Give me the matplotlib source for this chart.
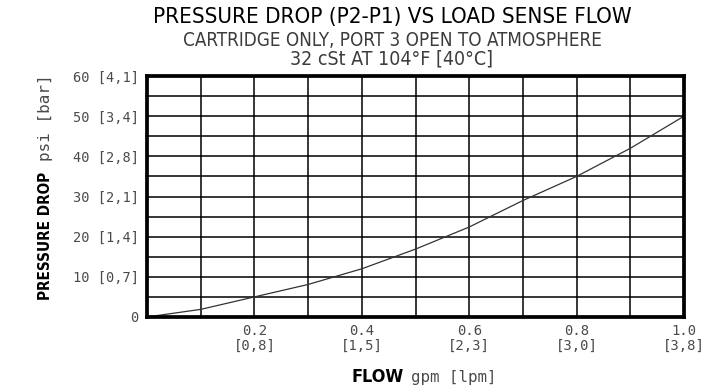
import matplotlib
matplotlib.use("Agg")
import matplotlib.pyplot as plt
from matplotlib.ticker import MultipleLocator, FixedLocator

flow_gpm = [0.0, 0.1, 0.2, 0.3, 0.4, 0.5, 0.6, 0.7, 0.8, 0.9, 1.0]
pressure_psi = [0.0, 1.9, 5.0, 8.1, 12.0, 16.9, 22.4, 29.0, 35.0, 42.0, 50.0]

x_ticks = [0.2, 0.4, 0.6, 0.8, 1.0]
x_tick_labels = ["0.2\n[0,8]", "0.4\n[1,5]", "0.6\n[2,3]", "0.8\n[3,0]", "1.0\n[3,8]"]
y_ticks = [0, 10, 20, 30, 40, 50, 60]
y_tick_labels = ["0", "10 [0,7]", "20 [1,4]", "30 [2,1]", "40 [2,8]", "50 [3,4]", "60 [4,1]"]

title1 = "PRESSURE DROP (P2-P1) VS LOAD SENSE FLOW"
title2 = "CARTRIDGE ONLY, PORT 3 OPEN TO ATMOSPHERE"
title3 = "32 cSt AT 104°F [40°C]"

MONO = dict(family="DejaVu Sans Mono")
COND = dict(family="DejaVu Sans", stretch="condensed")
GRAY = "#4a4a4a"

W, H = 709, 388
fig = plt.figure(figsize=(W / 100, H / 100), dpi=100)
ax = fig.add_axes([147 / W, 1 - 317 / H, (684 - 147) / W, (317 - 76) / H])

ax.plot(flow_gpm, pressure_psi, color="#333333", lw=0.9, zorder=3)
ax.set_xlim(0, 1.0)
ax.set_ylim(0, 60)

ax.xaxis.set_major_locator(FixedLocator(x_ticks))
ax.set_xticklabels(x_tick_labels, **MONO, fontsize=10, color=GRAY, linespacing=1.1)
ax.yaxis.set_major_locator(FixedLocator(y_ticks))
ax.set_yticklabels(y_tick_labels, **MONO, fontsize=9.8, color=GRAY)
ax.xaxis.set_minor_locator(MultipleLocator(0.1))
ax.yaxis.set_minor_locator(MultipleLocator(5))
ax.tick_params(which="both", length=0)
ax.tick_params(axis="x", pad=5)
ax.tick_params(axis="y", pad=6)
ax.grid(which="both", color="black", lw=1.1, zorder=1)
for s in ax.spines.values():
    s.set_linewidth(2.7)
    s.set_color("black")
    s.set_zorder(4)

cx = 392 / W
fig.text(cx, 1 - 17 / H, title1, ha="center", va="center", fontsize=16, color="black", **COND)
fig.text(cx, 1 - 40 / H, title2, ha="center", va="center", fontsize=13.5, color="#3c3c3c", **COND)
fig.text(cx, 1 - 59 / H, title3, ha="center", va="center", fontsize=14, color="#3c3c3c", **COND)

# y label: bold part and regular part
fig.text(50 / W, 1 - 236 / H, "PRESSURE DROP", rotation=90, rotation_mode="anchor",
         ha="center", va="baseline", fontsize=11, fontweight="bold", color="black", **COND)
fig.text(50 / W, 1 - 118 / H, "psi [bar]", rotation=90, rotation_mode="anchor",
         ha="center", va="baseline", fontsize=11.5, color=GRAY, **MONO)

# x label
fig.text(378 / W, 1 - 382 / H, "FLOW", ha="center", va="baseline",
         fontsize=13, fontweight="bold", color="black", **COND)
fig.text(454 / W, 1 - 382 / H, "gpm [lpm]", ha="center", va="baseline",
         fontsize=11.3, color=GRAY, **MONO)

fig.savefig("out.png", dpi=100)
